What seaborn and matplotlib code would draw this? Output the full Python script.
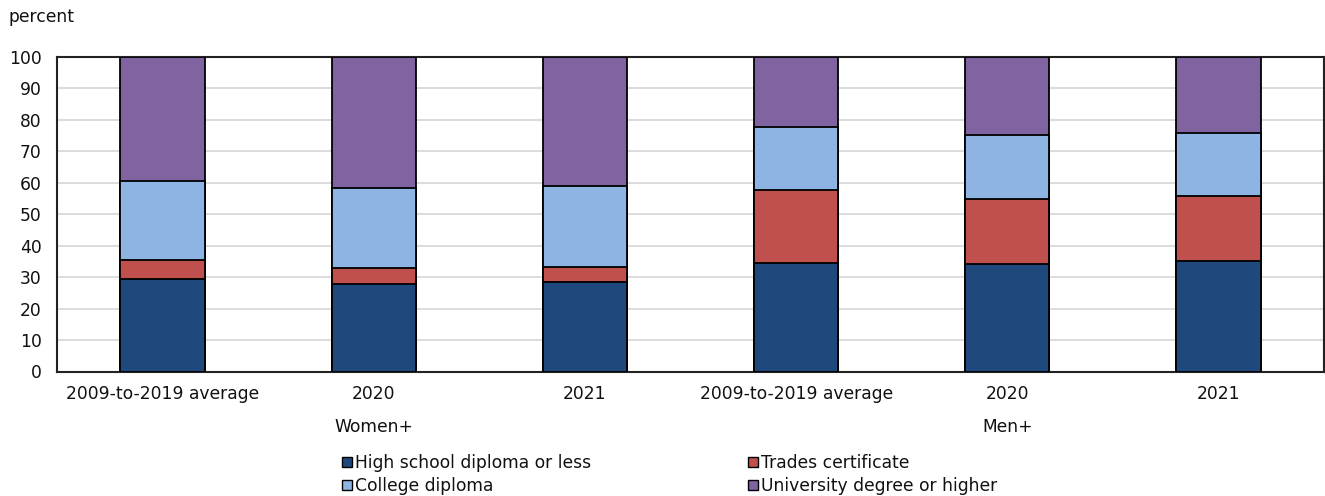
import matplotlib
matplotlib.use("Agg")
import matplotlib.pyplot as plt
from matplotlib.patches import Patch
import numpy as np
import pandas as pd
import seaborn as sns

# Education distribution (percent), three periods for each gender group
slots = ["W-avg", "W-2020", "W-2021", "M-avg", "M-2020", "M-2021"]
period_labels = ["2009-to-2019 average", "2020", "2021",
                 "2009-to-2019 average", "2020", "2021"]
groups = ["Women+", "Men+"]

high_school = [29.3, 27.8, 28.4, 34.4, 34.2, 35.1]
trades = [6.1, 5.0, 4.9, 23.4, 20.7, 20.6]
college = [25.1, 25.6, 25.6, 20.0, 20.3, 20.1]
university = [39.5, 41.6, 41.1, 22.2, 24.8, 24.2]

series_names = ["High school diploma or less", "Trades certificate",
                "College diploma", "University degree or higher"]
series_values = [high_school, trades, college, university]
colors = ["#1F497D", "#C0504D", "#8EB4E3", "#8064A2"]

sns.set_theme(style="white")
plt.rcParams["font.family"] = ["DejaVu Sans"]
plt.rcParams["text.color"] = "#111111"
plt.rcParams["xtick.color"] = "#111111"
plt.rcParams["ytick.color"] = "#111111"

FS = 12.3

fig = plt.figure(figsize=(13.25, 4.96), dpi=100)
W, H = 1325, 496
ax = fig.add_axes([57 / W, 1 - 371.5 / H, (1324 - 57) / W, (371.5 - 57) / H])

# stacked bars: draw cumulative totals from the top series down
cum = np.cumsum(np.array(series_values), axis=0)
for i in range(len(series_names) - 1, -1, -1):
    df = pd.DataFrame({"slot": slots, "value": cum[i]})
    sns.barplot(data=df, x="slot", y="value", order=slots, color=colors[i],
                width=0.4, edgecolor="black", linewidth=1.3, saturation=1,
                ax=ax, zorder=3)

ax.set_ylim(0, 100)
ax.set_xlim(-0.5, 5.5)
ax.set_yticks(np.arange(0, 101, 10))
ax.yaxis.grid(True, color="#D9D9D9", linewidth=1.3, zorder=0)
ax.set_axisbelow(True)
ax.set_xticks(range(len(slots)))
ax.set_xticklabels(period_labels, fontsize=FS)
ax.tick_params(axis="y", labelsize=FS, length=0, pad=11)
ax.tick_params(axis="x", length=0, pad=9.5)
ax.set_xlabel("")
ax.set_ylabel("")
for s in ax.spines.values():
    s.set_color("#222222")
    s.set_linewidth(1.5)

fig.text(8 / W, 1 - 17 / H, "percent", fontsize=FS, va="center", ha="left")

# group labels under the middle period of each group
for gi, g in enumerate(groups):
    fig.text((57 + (gi * 3 + 1.5) * (1324 - 57) / 6) / W, 1 - 427 / H, g,
             ha="center", va="center", fontsize=FS)

handles = [Patch(facecolor=colors[i], edgecolor="black", linewidth=1.0,
                 label=series_names[i]) for i in [0, 2, 1, 3]]
fig.legend(handles=handles, ncol=2, loc="upper left",
           bbox_to_anchor=(330 / W, 1 - 442 / H), frameon=False,
           fontsize=FS, handlelength=0.6, handleheight=0.6,
           handletextpad=0.15, columnspacing=9.2, labelspacing=0.3,
           borderpad=0.2)

fig.savefig("out.png", dpi=100)
